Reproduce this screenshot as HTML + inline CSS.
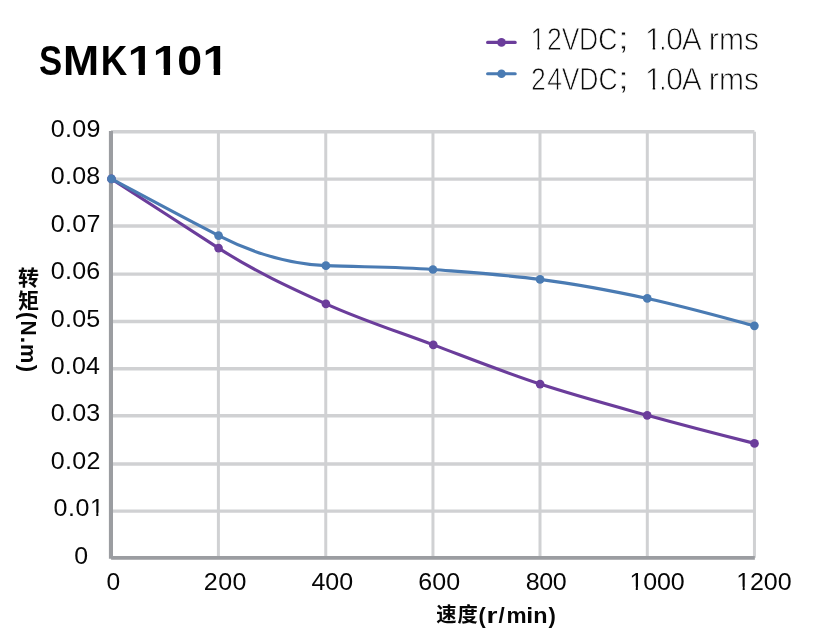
<!DOCTYPE html>
<html lang="zh"><head><meta charset="utf-8"><title>SMK1101</title>
<style>html,body{margin:0;padding:0;background:#fff}svg{display:block;will-change:transform}text{font-family:"Liberation Sans","Noto Sans CJK SC",sans-serif;font-kerning:none;white-space:pre}</style></head><body>
<svg width="831" height="640" viewBox="0 0 831 640">
<rect width="831" height="640" fill="#fff"/>
<g stroke="#d0d1d3" fill="none">
<line x1="111.00" y1="511.10" x2="754.40" y2="511.10" stroke-width="3.4"/>
<line x1="111.00" y1="464.05" x2="754.40" y2="464.05" stroke-width="3.4"/>
<line x1="111.00" y1="415.80" x2="754.40" y2="415.80" stroke-width="3.4"/>
<line x1="111.00" y1="368.70" x2="754.40" y2="368.70" stroke-width="3.4"/>
<line x1="111.00" y1="321.50" x2="754.40" y2="321.50" stroke-width="3.4"/>
<line x1="111.00" y1="274.10" x2="754.40" y2="274.10" stroke-width="3.4"/>
<line x1="111.00" y1="226.00" x2="754.40" y2="226.00" stroke-width="3.4"/>
<line x1="111.00" y1="179.15" x2="754.40" y2="179.15" stroke-width="3.4"/>
<line x1="111.00" y1="131.80" x2="754.40" y2="131.80" stroke-width="3.4"/>
<line x1="218.40" y1="131.70" x2="218.40" y2="557.80" stroke-width="3"/>
<line x1="325.75" y1="131.70" x2="325.75" y2="557.80" stroke-width="3"/>
<line x1="432.95" y1="131.70" x2="432.95" y2="557.80" stroke-width="3"/>
<line x1="540.00" y1="131.70" x2="540.00" y2="557.80" stroke-width="3"/>
<line x1="647.30" y1="131.70" x2="647.30" y2="557.80" stroke-width="3"/>
<line x1="754.45" y1="131.70" x2="754.45" y2="557.80" stroke-width="3"/>
</g>
<g stroke="#9b9da1" fill="none">
<line x1="110.95" y1="130.90" x2="110.95" y2="558.75" stroke-width="4.1"/>
<line x1="111.10" y1="557.80" x2="754.85" y2="557.80" stroke-width="3.8"/>
</g>
<path d="M111.45 178.90 C147.15 201.96 182.85 225.04 218.55 248.10 C254.33 271.22 290.12 287.71 325.90 303.85 C361.70 320.00 397.50 331.47 433.30 344.90 C468.90 358.25 504.50 372.39 540.10 384.10 C575.80 395.85 611.50 405.41 647.20 415.30 C682.97 425.21 718.73 434.46 754.50 443.40" fill="none" stroke="#6b3d9b" stroke-width="3.15" stroke-linecap="round" stroke-linejoin="round"/>
<g fill="#6b3d9b"><circle cx="111.45" cy="178.90" r="4.35"/><circle cx="218.55" cy="248.10" r="4.35"/><circle cx="325.90" cy="303.85" r="4.35"/><circle cx="433.30" cy="344.90" r="4.35"/><circle cx="540.10" cy="384.10" r="4.35"/><circle cx="647.20" cy="415.30" r="4.35"/><circle cx="754.50" cy="443.40" r="4.35"/></g>
<path d="M111.45 178.90 C147.15 198.00 182.85 217.39 218.55 235.60 C254.33 253.85 290.12 264.22 325.90 265.65 C361.58 267.08 397.27 266.65 432.95 269.50 C468.67 272.36 504.38 274.76 540.10 279.40 C575.83 284.05 611.57 290.77 647.30 298.45 C683.00 306.13 718.70 316.16 754.40 325.80" fill="none" stroke="#4a7bb3" stroke-width="3.15" stroke-linecap="round" stroke-linejoin="round"/>
<g fill="#4a7bb3"><circle cx="111.45" cy="178.90" r="4.35"/><circle cx="218.55" cy="235.60" r="4.35"/><circle cx="325.90" cy="265.65" r="4.35"/><circle cx="432.95" cy="269.50" r="4.35"/><circle cx="540.10" cy="279.40" r="4.35"/><circle cx="647.30" cy="298.45" r="4.35"/><circle cx="754.40" cy="325.80" r="4.35"/></g>
<line x1="487.6" y1="42.4" x2="515.2" y2="42.4" stroke="#6b3d9b" stroke-width="3.1" stroke-linecap="round"/>
<circle cx="501.5" cy="42.4" r="4.3" fill="#6b3d9b"/>
<line x1="487.6" y1="73.8" x2="515.2" y2="73.8" stroke="#4a7bb3" stroke-width="3.1" stroke-linecap="round"/>
<circle cx="501.5" cy="73.8" r="4.3" fill="#4a7bb3"/>
<text y="74.70" font-size="41.60" font-weight="bold" fill="#000"><tspan x="39.05" textLength="23.21" lengthAdjust="spacingAndGlyphs">S</tspan><tspan x="63.10" textLength="36.10" lengthAdjust="spacingAndGlyphs">M</tspan><tspan x="100.75" textLength="26.49" lengthAdjust="spacingAndGlyphs">K</tspan><tspan x="127.83" textLength="25.76" lengthAdjust="spacingAndGlyphs">1</tspan><tspan x="152.81" textLength="25.94" lengthAdjust="spacingAndGlyphs">1</tspan><tspan x="177.33" textLength="24.91" lengthAdjust="spacingAndGlyphs">0</tspan><tspan x="202.54" textLength="26.50" lengthAdjust="spacingAndGlyphs">1</tspan></text><rect x="129.15" y="68.95" width="9.57" height="7.25" fill="#fff"/><rect x="144.92" y="68.95" width="8.99" height="7.25" fill="#fff"/><rect x="154.15" y="68.95" width="9.63" height="7.25" fill="#fff"/><rect x="170.02" y="68.95" width="9.04" height="7.25" fill="#fff"/><rect x="203.94" y="68.95" width="9.80" height="7.25" fill="#fff"/><rect x="220.12" y="68.95" width="9.19" height="7.25" fill="#fff"/>
<text transform="translate(0 49.75) scale(0.8679 1.0000)" x="611.25 630.26 647.23 667.24 689.46" font-size="30.60" font-weight="normal" fill="#0c0c0c" stroke="#fff" stroke-width="0.80">12VDC</text><rect x="530.93" y="45.96" width="6.34" height="5.29" fill="#fff"/><rect x="539.46" y="45.96" width="6.13" height="5.29" fill="#fff"/>
<text transform="translate(616.70 49.10) scale(1.4965 1.0000)" font-size="32.00" font-weight="normal" fill="#0c0c0c" stroke="#fff" stroke-width="0.80">;</text>
<text transform="translate(0 49.75) scale(0.9804 1.0000)" x="657.97 671.76 679.64 695.29 715.70 722.89 733.44 758.76" font-size="30.60" font-weight="normal" fill="#0c0c0c" stroke="#fff" stroke-width="0.80">1.0A rms</text><rect x="645.74" y="45.96" width="6.94" height="5.29" fill="#fff"/><rect x="655.17" y="45.96" width="6.70" height="5.29" fill="#fff"/>
<text transform="translate(0 89.50) scale(0.8678 1.0000)" x="612.04 630.63 647.34 667.35 689.57" font-size="30.60" font-weight="normal" fill="#0c0c0c" stroke="#fff" stroke-width="0.80">24VDC</text>
<text transform="translate(616.70 88.85) scale(1.4965 1.0000)" font-size="32.00" font-weight="normal" fill="#0c0c0c" stroke="#fff" stroke-width="0.80">;</text>
<text transform="translate(0 89.50) scale(0.9804 1.0000)" x="657.97 671.76 679.64 695.29 715.70 722.89 733.44 758.76" font-size="30.60" font-weight="normal" fill="#0c0c0c" stroke="#fff" stroke-width="0.80">1.0A rms</text><rect x="645.74" y="85.71" width="6.94" height="5.29" fill="#fff"/><rect x="655.17" y="85.71" width="6.70" height="5.29" fill="#fff"/>
<text transform="translate(53.42 516.00) scale(1.0300 1.0000)" font-size="24.30" font-weight="normal" fill="#060606" letter-spacing="0.543">0.01</text><rect x="90.20" y="512.68" width="6.07" height="4.82" fill="#fff"/><rect x="98.32" y="512.68" width="5.87" height="4.82" fill="#fff"/>
<text transform="translate(50.82 469.00) scale(1.0300 1.0000)" font-size="24.30" font-weight="normal" fill="#060606" letter-spacing="0.299">0.02</text>
<text transform="translate(50.82 421.00) scale(1.0300 1.0000)" font-size="24.30" font-weight="normal" fill="#060606" letter-spacing="0.247">0.03</text>
<text transform="translate(50.82 374.00) scale(1.0300 1.0000)" font-size="24.30" font-weight="normal" fill="#060606" letter-spacing="0.129">0.04</text>
<text transform="translate(50.82 327.00) scale(1.0300 1.0000)" font-size="24.30" font-weight="normal" fill="#060606" letter-spacing="0.231">0.05</text>
<text transform="translate(50.82 279.00) scale(1.0300 1.0000)" font-size="24.30" font-weight="normal" fill="#060606" letter-spacing="0.247">0.06</text>
<text transform="translate(50.82 232.00) scale(1.0300 1.0000)" font-size="24.30" font-weight="normal" fill="#060606" letter-spacing="0.299">0.07</text>
<text transform="translate(50.82 184.00) scale(1.0300 1.0000)" font-size="24.30" font-weight="normal" fill="#060606" letter-spacing="0.243">0.08</text>
<text transform="translate(50.82 137.00) scale(1.0300 1.0000)" font-size="24.30" font-weight="normal" fill="#060606" letter-spacing="0.275">0.09</text>
<text transform="translate(74.33 564.00) scale(1.0244 1.0000)" font-size="24.30" font-weight="normal" fill="#060606">0</text>
<text transform="translate(106.54 590.00) scale(1.0115 1.0000)" font-size="24.30" font-weight="normal" fill="#060606">0</text>
<text transform="translate(203.74 590.00) scale(1.0300 1.0000)" font-size="24.30" font-weight="normal" fill="#060606" letter-spacing="0.474">200</text>
<text transform="translate(311.53 590.00) scale(1.0300 1.0000)" font-size="24.30" font-weight="normal" fill="#060606" letter-spacing="-0.101">400</text>
<text transform="translate(418.23 590.00) scale(1.0300 1.0000)" font-size="24.30" font-weight="normal" fill="#060606" letter-spacing="0.092">600</text>
<text transform="translate(525.81 590.00) scale(1.0300 1.0000)" font-size="24.30" font-weight="normal" fill="#060606" letter-spacing="-0.386">800</text>
<text transform="translate(629.39 590.00) scale(1.0300 1.0000)" font-size="24.30" font-weight="normal" fill="#060606" letter-spacing="-0.095">1000</text><rect x="629.70" y="586.68" width="6.07" height="4.82" fill="#fff"/><rect x="637.82" y="586.68" width="5.87" height="4.82" fill="#fff"/>
<text transform="translate(736.29 590.00) scale(1.0300 1.0000)" font-size="24.30" font-weight="normal" fill="#060606" letter-spacing="-0.128">1200</text><rect x="736.60" y="586.68" width="6.07" height="4.82" fill="#fff"/><rect x="744.72" y="586.68" width="5.87" height="4.82" fill="#fff"/>
<text y="622.30" font-size="20.30" font-weight="bold" fill="#060606" font-family="&quot;Liberation Sans&quot;,&quot;Noto Sans CJK SC&quot;,sans-serif"><tspan x="436.30">速</tspan><tspan x="457.40">度</tspan></text>
<text y="622.70" font-size="22.30" font-weight="bold" fill="#060606"><tspan x="478.52" textLength="7.20" lengthAdjust="spacingAndGlyphs">(</tspan><tspan x="486.44" textLength="10.99" lengthAdjust="spacingAndGlyphs">r</tspan><tspan x="498.60" textLength="6.20" lengthAdjust="spacingAndGlyphs">/</tspan><tspan x="506.41" textLength="20.09" lengthAdjust="spacingAndGlyphs">m</tspan><tspan x="526.29" textLength="6.94" lengthAdjust="spacingAndGlyphs">i</tspan><tspan x="533.26" textLength="14.29" lengthAdjust="spacingAndGlyphs">n</tspan><tspan x="548.38" textLength="7.32" lengthAdjust="spacingAndGlyphs">)</tspan></text>
<text font-size="21.00" font-weight="bold" fill="#060606" font-family="&quot;Liberation Sans&quot;,&quot;Noto Sans CJK SC&quot;,sans-serif"><tspan x="18.00" y="285.40">转</tspan><tspan x="18.00" y="307.75">矩</tspan></text>
<g transform="translate(20.8 0) rotate(90)"><text y="0.00" font-size="21.40" font-weight="bold" fill="#060606"><tspan x="311.92" textLength="7.20" lengthAdjust="spacingAndGlyphs">(</tspan><tspan x="320.60" textLength="15.11" lengthAdjust="spacingAndGlyphs">N</tspan><tspan x="336.42" textLength="6.89" lengthAdjust="spacingAndGlyphs">.</tspan><tspan x="343.97" textLength="19.27" lengthAdjust="spacingAndGlyphs">m</tspan><tspan x="364.78" textLength="7.20" lengthAdjust="spacingAndGlyphs">)</tspan></text></g>
</svg></body></html>
